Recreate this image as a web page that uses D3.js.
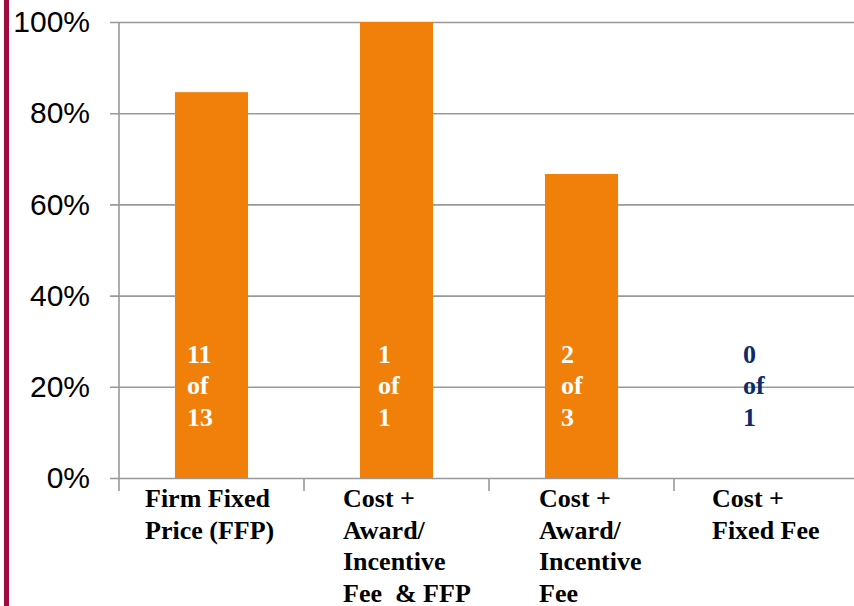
<!DOCTYPE html>
<html>
<head>
<meta charset="utf-8">
<script src="https://cdn.jsdelivr.net/npm/d3@7"></script>
<style>
  body { margin: 0; background: #fff; }
  svg { display: block; }
</style>
</head>
<body>
<div id="chart"></div>
<script>

// data
var categories = ["Firm Fixed Price (FFP)", "Cost + Award/ Incentive Fee & FFP",
                  "Cost + Award/ Incentive Fee", "Cost + Fixed Fee"];
var labelLines = [["Firm Fixed", "Price (FFP)"],
                  ["Cost +", "Award/", "Incentive", "Fee  & FFP"],
                  ["Cost +", "Award/", "Incentive", "Fee"],
                  ["Cost +", "Fixed Fee"]];
var wins  = [11, 1, 2, 0];
var totals = [13, 1, 3, 1];
var yTicks = [0, 0.2, 0.4, 0.6, 0.8, 1.0];

var data = categories.map(function(c, i) {
  return { cat: c, lines: labelLines[i], win: wins[i], total: totals[i], value: wins[i] / totals[i] };
});

// set the dimensions and margins of the graph
var W = 854, H = 606;
var margin = {top: 22, right: -5, bottom: 128, left: 119},
    width = W - margin.left - margin.right,
    height = H - margin.top - margin.bottom;

var svg = d3.select("#chart")
  .append("svg")
    .attr("width", W)
    .attr("height", H);

// red stripe on the left edge of the slide
svg.append("rect")
  .attr("x", 4).attr("y", 0)
  .attr("width", 5).attr("height", H)
  .attr("fill", "#9e0b3c");

var g = svg.append("g")
  .attr("transform", "translate(" + margin.left + "," + margin.top + ")");

var x = d3.scaleBand()
  .domain(categories)
  .range([0, width])
  .paddingInner(0.605)
  .paddingOuter(0.3025);

var y = d3.scaleLinear()
  .domain([0, 1])
  .range([height, 0]);

// gridlines + y axis
var yAxis = g.append("g")
  .call(d3.axisLeft(y)
    .tickValues(yTicks)
    .tickSize(-width)
    .tickPadding(29)
    .tickFormat(d3.format(".0%")));
yAxis.select(".domain").remove();
yAxis.selectAll(".tick line")
  .attr("x1", -9)
  .attr("stroke", "#999")
  .attr("stroke-width", 1.6);
yAxis.selectAll(".tick text")
  .attr("fill", "#000")
  .style("font-family", "'Liberation Sans', Arial, sans-serif")
  .style("font-size", "30px");

// vertical axis line
g.append("line")
  .attr("x1", 0).attr("x2", 0)
  .attr("y1", 0).attr("y2", height)
  .attr("stroke", "#999").attr("stroke-width", 1.6);

// category ticks below the axis
var step = x.step();
g.selectAll(".ctick")
  .data(d3.range(categories.length + 1))
  .enter()
  .append("line")
    .attr("x1", function(d) { return d * step; })
    .attr("x2", function(d) { return d * step; })
    .attr("y1", height)
    .attr("y2", height + 13)
    .attr("stroke", "#999").attr("stroke-width", 1.6);

// bars
g.selectAll(".bar")
  .data(data)
  .enter()
  .append("rect")
    .attr("x", function(d) { return x(d.cat); })
    .attr("y", function(d) { return y(d.value); })
    .attr("width", x.bandwidth())
    .attr("height", function(d) { return height - y(d.value); })
    .attr("fill", "#f0800a");

// "n of m" labels inside bars
var inOffset = [12, 18, 16, 13];
var inner = g.selectAll(".inlab")
  .data(data)
  .enter()
  .append("text")
    .attr("x", function(d, i) { return x(d.cat) + inOffset[i]; })
    .attr("y", y(0.2) - 24)
    .attr("fill", function(d) { return d.win > 0 ? "#fff" : "#0c2b6b"; })
    .style("font-family", "'Liberation Serif', 'Times New Roman', serif")
    .style("font-weight", "bold")
    .style("font-size", "26px");
inner.selectAll("tspan")
  .data(function(d) { return [String(d.win), "of", String(d.total)]; })
  .enter()
  .append("tspan")
    .attr("x", function() { return d3.select(this.parentNode).attr("x"); })
    .attr("dy", function(d, i) { return i === 0 ? 0 : 31.5; })
    .text(function(d) { return d; });

// category labels
var labOffset = [26, 39, 50, 38];
var cl = g.selectAll(".clab")
  .data(data)
  .enter()
  .append("text")
    .attr("x", function(d, i) { return i * step + labOffset[i]; })
    .attr("y", height + 29)
    .attr("fill", "#000")
    .attr("xml:space", "preserve")
    .style("white-space", "pre")
    .style("font-family", "'Liberation Serif', 'Times New Roman', serif")
    .style("font-weight", "bold")
    .style("font-size", "26px");
cl.selectAll("tspan")
  .data(function(d) { return d.lines; })
  .enter()
  .append("tspan")
    .attr("x", function() { return d3.select(this.parentNode).attr("x"); })
    .attr("dy", function(d, i) { return i === 0 ? 0 : 31.7; })
    .text(function(d) { return d; });

</script>
</body>
</html>
